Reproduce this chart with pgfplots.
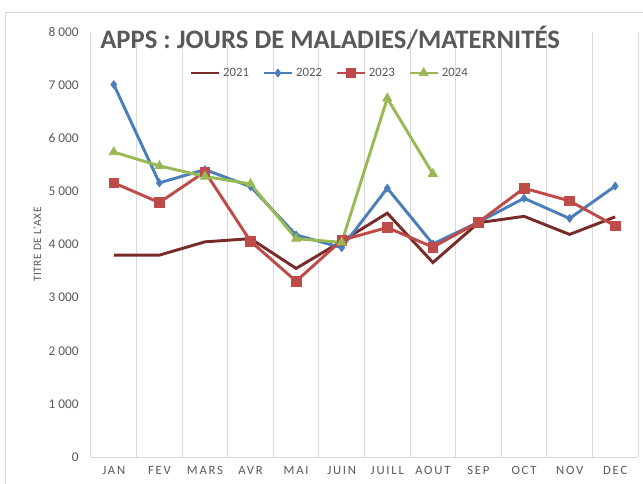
\documentclass[border=0pt]{standalone}
\usepackage{fontspec}
\setmainfont{Carlito}
\newfontfamily\spaced[LetterSpace=14]{Carlito}
\newfontfamily\lightspaced[LetterSpace=5]{Carlito}
\usepackage{pgfplots}
\pgfplotsset{compat=1.18}

\definecolor{gridc}{HTML}{D9D9D9}
\definecolor{txt}{HTML}{595959}
\definecolor{c21}{HTML}{772C2A}
\definecolor{c22}{HTML}{4A7EBB}
\definecolor{c23}{HTML}{BE4B48}
\definecolor{c24}{HTML}{98B954}

\begin{document}
\begin{tikzpicture}
\useasboundingbox (0,0) rectangle (482.25pt,362.25pt);
% chart frame (right and bottom sides fall outside the picture)
\draw[gridc, line width=0.75pt] (3.75pt,-10pt) -- (3.75pt,352.5pt) -- (500pt,352.5pt);
\begin{axis}[
    at={(68.25pt,19.5pt)}, anchor=south west,
    scale only axis,
    width=410.25pt, height=318.75pt,
    clip=false,
    xmin=0.5, xmax=12.5,
    ymin=0, ymax=8000,
    xtick={1,...,12},
    xticklabels={JAN,FEV,MARS,AVR,MAI,JUIN,JUILL,AOUT,SEP,OCT,NOV,DEC},
    minor xtick={0.5,1.5,...,12.5},
    xminorgrids,
    minor grid style={gridc, line width=0.75pt},
    ytick={0,1000,...,8000},
    yticklabels={0,1 000,2 000,3 000,4 000,5 000,6 000,7 000,8 000},
    major tick length=0pt, minor tick length=0pt,
    axis x line*=bottom, axis y line*=left,
    x axis line style={gridc, line width=0.75pt, -},
    y axis line style={draw=none},
    /pgf/number format/assume math mode=true,
    yticklabel style={font=\fontsize{10}{12}\selectfont, text=txt, inner sep=0pt, anchor=east, xshift=-9pt},
    xticklabel style={font=\fontsize{9.5}{11}\selectfont\spaced, text=txt, inner sep=0pt, anchor=north, yshift=-6.5pt},
    ylabel={\lightspaced TITRE DE L'AXE},
    ylabel style={font=\fontsize{8.5}{10}\selectfont, text=txt, at={(axis description cs:-0.098,0.5)}, anchor=center, rotate=0},
    legend columns=4,
    legend style={at={(axis description cs:0.437,0.9035)}, anchor=center, draw=none, fill=none,
        font=\fontsize{9.6}{11}\selectfont, text=txt,
        /tikz/every even column/.append style={column sep=8pt}},
    legend cell align=left,
    legend image code/.code={\draw[mark repeat=2,mark phase=2,#1] plot coordinates {(0pt,0pt) (10.5pt,0pt) (21pt,0pt)};},
    every axis plot/.append style={line width=2.2pt},
]
\addplot[c21, no marks] coordinates {
    (1,3800) (2,3800) (3,4050) (4,4110) (5,3550) (6,4060)
    (7,4590) (8,3660) (9,4410) (10,4530) (11,4190) (12,4520)
};
\addplot[c22, mark=diamond*, mark size=3pt, mark options={solid, line width=0.5pt}] coordinates {
    (1,7010) (2,5160) (3,5410) (4,5090) (5,4180) (6,3940)
    (7,5060) (8,4010) (9,4420) (10,4870) (11,4490) (12,5100)
};
\addplot[c23, mark=square*, mark size=3.6pt, mark options={solid, line width=0.5pt}] coordinates {
    (1,5160) (2,4790) (3,5370) (4,4060) (5,3310) (6,4080)
    (7,4320) (8,3950) (9,4420) (10,5060) (11,4820) (12,4350)
};
\addplot[c24, mark=triangle*, mark size=4pt, mark options={solid, line width=0.5pt}] coordinates {
    (1,5740) (2,5480) (3,5280) (4,5140) (5,4110) (6,4040)
    (7,6750) (8,5330)
};
\legend{2021,2022,2023,2024}
\node[anchor=west, inner sep=0pt, font=\fontsize{20}{24}\selectfont\bfseries, text=txt]
    at (axis description cs:0.0165,0.986) {APPS : JOURS DE MALADIES/MATERNITÉS};
\end{axis}
\end{tikzpicture}
\end{document}
